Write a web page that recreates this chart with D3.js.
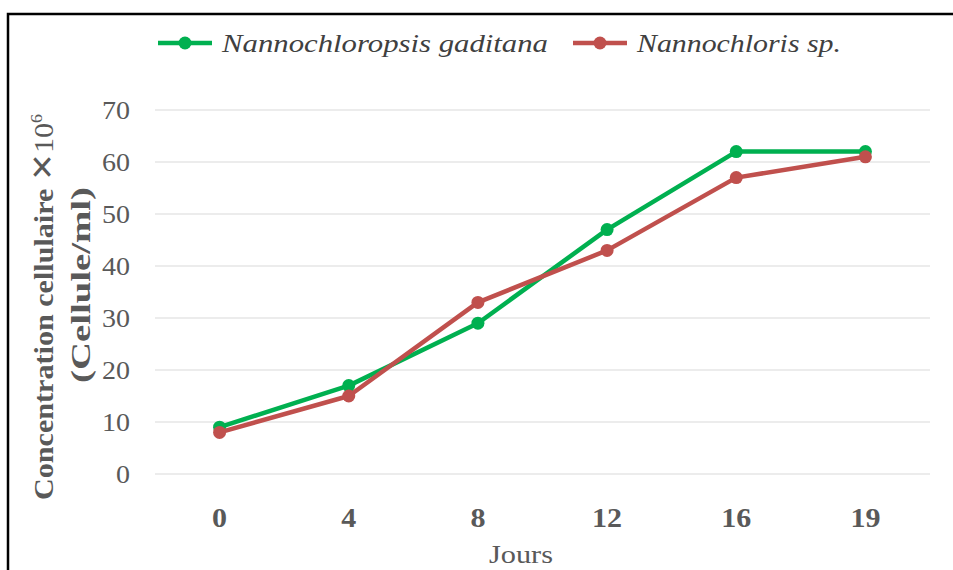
<!DOCTYPE html>
<html>
<head>
<meta charset="utf-8">
<script src="https://cdn.jsdelivr.net/npm/d3@7"></script>
<style>
  body { margin: 0; background: #fff; }
  text { font-family: "Liberation Serif", "Times New Roman", serif; }
</style>
</head>
<body>
<div class="chart"></div>
<script>
const days = ["0", "4", "8", "12", "16", "19"];
const gaditana = [9, 17, 29, 47, 62, 62];
const nannochloris = [8, 15, 33, 43, 57, 61];
const yTicks = [0, 10, 20, 30, 40, 50, 60, 70];

const width = 953;
const height = 570;
const margin = { top: 110, right: 23, bottom: 96, left: 155 };

const svg = d3
  .select(".chart")
  .append("svg")
  .attr("width", width)
  .attr("height", height);

// frame (runs off the picture on the right and bottom)
svg
  .append("rect")
  .attr("x", 8)
  .attr("y", 14)
  .attr("width", 1000)
  .attr("height", 600)
  .attr("fill", "none")
  .attr("stroke", "#000")
  .attr("stroke-width", 2.5);

const x = d3
  .scaleBand()
  .domain(days)
  .range([margin.left, width - margin.right])
  .padding(0);

const y = d3
  .scaleLinear()
  .domain([0, 70])
  .range([height - margin.bottom, margin.top]);

// gridlines
svg
  .selectAll("line.grid")
  .data(yTicks)
  .enter()
  .append("line")
  .attr("class", "grid")
  .attr("x1", margin.left)
  .attr("x2", width - margin.right)
  .attr("y1", (d) => y(d))
  .attr("y2", (d) => y(d))
  .attr("stroke", "#d9d9d9")
  .attr("stroke-width", 1);

// y axis labels
const yAxis = svg
  .append("g")
  .attr("transform", `translate(${margin.left - 25},0)`)
  .call(d3.axisLeft(y).tickValues(yTicks).tickSize(0).tickPadding(0));
yAxis.select(".domain").remove();
yAxis
  .selectAll("text")
  .attr("font-size", 26)
  .attr("fill", "#595959")
  .attr("dy", "0.33em")
  .attr("textLength", (d) => (d === 0 ? 14 : 28))
  .attr("lengthAdjust", "spacingAndGlyphs");

// x axis labels
const xAxis = svg
  .append("g")
  .attr("transform", `translate(0,${height - margin.bottom + 44})`)
  .call(d3.axisBottom(x).tickSize(0).tickPadding(0));
xAxis.select(".domain").remove();
xAxis
  .selectAll("text")
  .attr("font-size", 27)
  .attr("font-weight", "bold")
  .attr("fill", "#595959")
  .attr("dy", "0.35em")
  .attr("textLength", (d) => (d.length > 1 ? 30 : 15))
  .attr("lengthAdjust", "spacingAndGlyphs");

// axis titles
svg
  .append("text")
  .attr("x", 521)
  .attr("y", 563)
  .attr("text-anchor", "middle")
  .attr("font-size", 26)
  .attr("fill", "#595959")
  .attr("textLength", 64)
  .attr("lengthAdjust", "spacingAndGlyphs")
  .text("Jours");

const yTitle = svg
  .append("text")
  .attr("transform", "translate(53,307) rotate(-90)")
  .attr("text-anchor", "middle")
  .attr("font-size", 27)
  .attr("font-weight", "bold")
  .attr("fill", "#595959")
  .attr("textLength", 386)
  .attr("lengthAdjust", "spacingAndGlyphs");
yTitle.append("tspan").text("Concentration cellulaire ");
yTitle
  .append("tspan")
  .attr("style", "font-family: 'DejaVu Sans'; font-size: 30px; font-weight: bold")
  .text("\u2715");
yTitle.append("tspan").attr("font-weight", "normal").text("10");
yTitle
  .append("tspan")
  .attr("font-weight", "normal")
  .attr("font-size", 16)
  .attr("dy", -11)
  .text("6");

svg
  .append("text")
  .attr("transform", "translate(90,285) rotate(-90)")
  .attr("text-anchor", "middle")
  .attr("font-size", 27)
  .attr("font-weight", "bold")
  .attr("fill", "#595959")
  .attr("textLength", 196)
  .attr("lengthAdjust", "spacingAndGlyphs")
  .text("(Cellule/ml)");

// series
const series = [
  { name: "Nannochloropsis gaditana", values: gaditana, color: "#00b050" },
  { name: "Nannochloris sp.", values: nannochloris, color: "#c0504d" }
];

const line = d3
  .line()
  .x((d, i) => x(days[i]) + x.bandwidth() / 2)
  .y((d) => y(d));

series.forEach((s) => {
  svg
    .append("path")
    .datum(s.values)
    .attr("d", line)
    .attr("fill", "none")
    .attr("stroke", s.color)
    .attr("stroke-width", 4.5)
    .attr("stroke-linejoin", "round");

  svg
    .selectAll("circle.s" + s.color.slice(1))
    .data(s.values)
    .enter()
    .append("circle")
    .attr("cx", (d, i) => x(days[i]) + x.bandwidth() / 2)
    .attr("cy", (d) => y(d))
    .attr("r", 6.5)
    .attr("fill", s.color);
});

// legend
const legendItems = [
  { x: 158, textLen: 326 },
  { x: 573, textLen: 204 }
];
series.forEach((s, i) => {
  const lx = legendItems[i].x;
  svg
    .append("line")
    .attr("x1", lx)
    .attr("x2", lx + 54)
    .attr("y1", 43)
    .attr("y2", 43)
    .attr("stroke", s.color)
    .attr("stroke-width", 4.5);
  svg
    .append("circle")
    .attr("cx", lx + 27)
    .attr("cy", 43)
    .attr("r", 6.5)
    .attr("fill", s.color);
  svg
    .append("text")
    .attr("x", lx + 64)
    .attr("y", 52)
    .attr("font-size", 26)
    .attr("font-style", "italic")
    .attr("fill", "#404040")
    .attr("textLength", legendItems[i].textLen)
    .attr("lengthAdjust", "spacingAndGlyphs")
    .text(s.name);
});
</script>
</body>
</html>
